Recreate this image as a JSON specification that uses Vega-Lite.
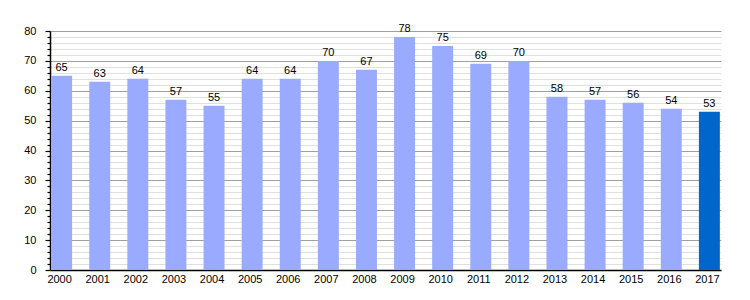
{
  "$schema": "https://vega.github.io/schema/vega-lite/v6.json",
  "width": 671,
  "height": 239,
  "autosize": "none",
  "padding": {"left": 50, "top": 31, "right": 29, "bottom": 30},
  "background": "white",
  "config": {
    "view": {"stroke": null},
    "font": "Liberation Sans"
  },
  "data": {
    "values": [
      {"year": "2000", "value": 65},
      {"year": "2001", "value": 63},
      {"year": "2002", "value": 64},
      {"year": "2003", "value": 57},
      {"year": "2004", "value": 55},
      {"year": "2005", "value": 64},
      {"year": "2006", "value": 64},
      {"year": "2007", "value": 70},
      {"year": "2008", "value": 67},
      {"year": "2009", "value": 78},
      {"year": "2010", "value": 75},
      {"year": "2011", "value": 69},
      {"year": "2012", "value": 70},
      {"year": "2013", "value": 58},
      {"year": "2014", "value": 57},
      {"year": "2015", "value": 56},
      {"year": "2016", "value": 54},
      {"year": "2017", "value": 53}
    ]
  },
  "encoding": {
    "x": {
      "field": "year",
      "type": "ordinal",
      "scale": {"paddingInner": 0.45, "paddingOuter": 0.03},
      "axis": {
        "title": null,
        "labelAngle": 0,
        "labelFontSize": 11,
        "labelColor": "#000",
        "labelPadding": 3,
        "labelOffset": -2,
        "ticks": false,
        "domainColor": "#000",
        "domainWidth": 1.5,
        "grid": false
      }
    },
    "y": {
      "field": "value",
      "type": "quantitative",
      "scale": {"domain": [0, 80], "nice": false},
      "axis": {
        "title": null,
        "values": [0,2,4,6,8,10,12,14,16,18,20,22,24,26,28,30,32,34,36,38,40,42,44,46,48,50,52,54,56,58,60,62,64,66,68,70,72,74,76,78,80],
        "labelExpr": "datum.value % 10 === 0 ? datum.label : ''",
        "labelFontSize": 11,
        "labelColor": "#000",
        "labelPadding": 9,
        "tickSize": {"condition": {"test": "datum.value % 10 === 0", "value": 5}, "value": 3},
        "tickColor": "#000",
        "tickWidth": 1.2,
        "domainColor": "#000",
        "domainWidth": 1.5,
        "grid": true,
        "gridColor": {"condition": {"test": "datum.value % 10 === 0", "value": "#a0a0a0"}, "value": "#e0e0e0"},
        "gridWidth": 1
      }
    }
  },
  "layer": [
    {
      "mark": {"type": "bar"},
      "encoding": {
        "color": {
          "condition": {"test": "datum.year === '2017'", "value": "#0066cc"},
          "value": "#99aaff"
        }
      }
    },
    {
      "mark": {"type": "text", "baseline": "alphabetic", "dy": -5, "fontSize": 11, "color": "#000"},
      "encoding": {
        "text": {"field": "value", "type": "quantitative"}
      }
    }
  ]
}
